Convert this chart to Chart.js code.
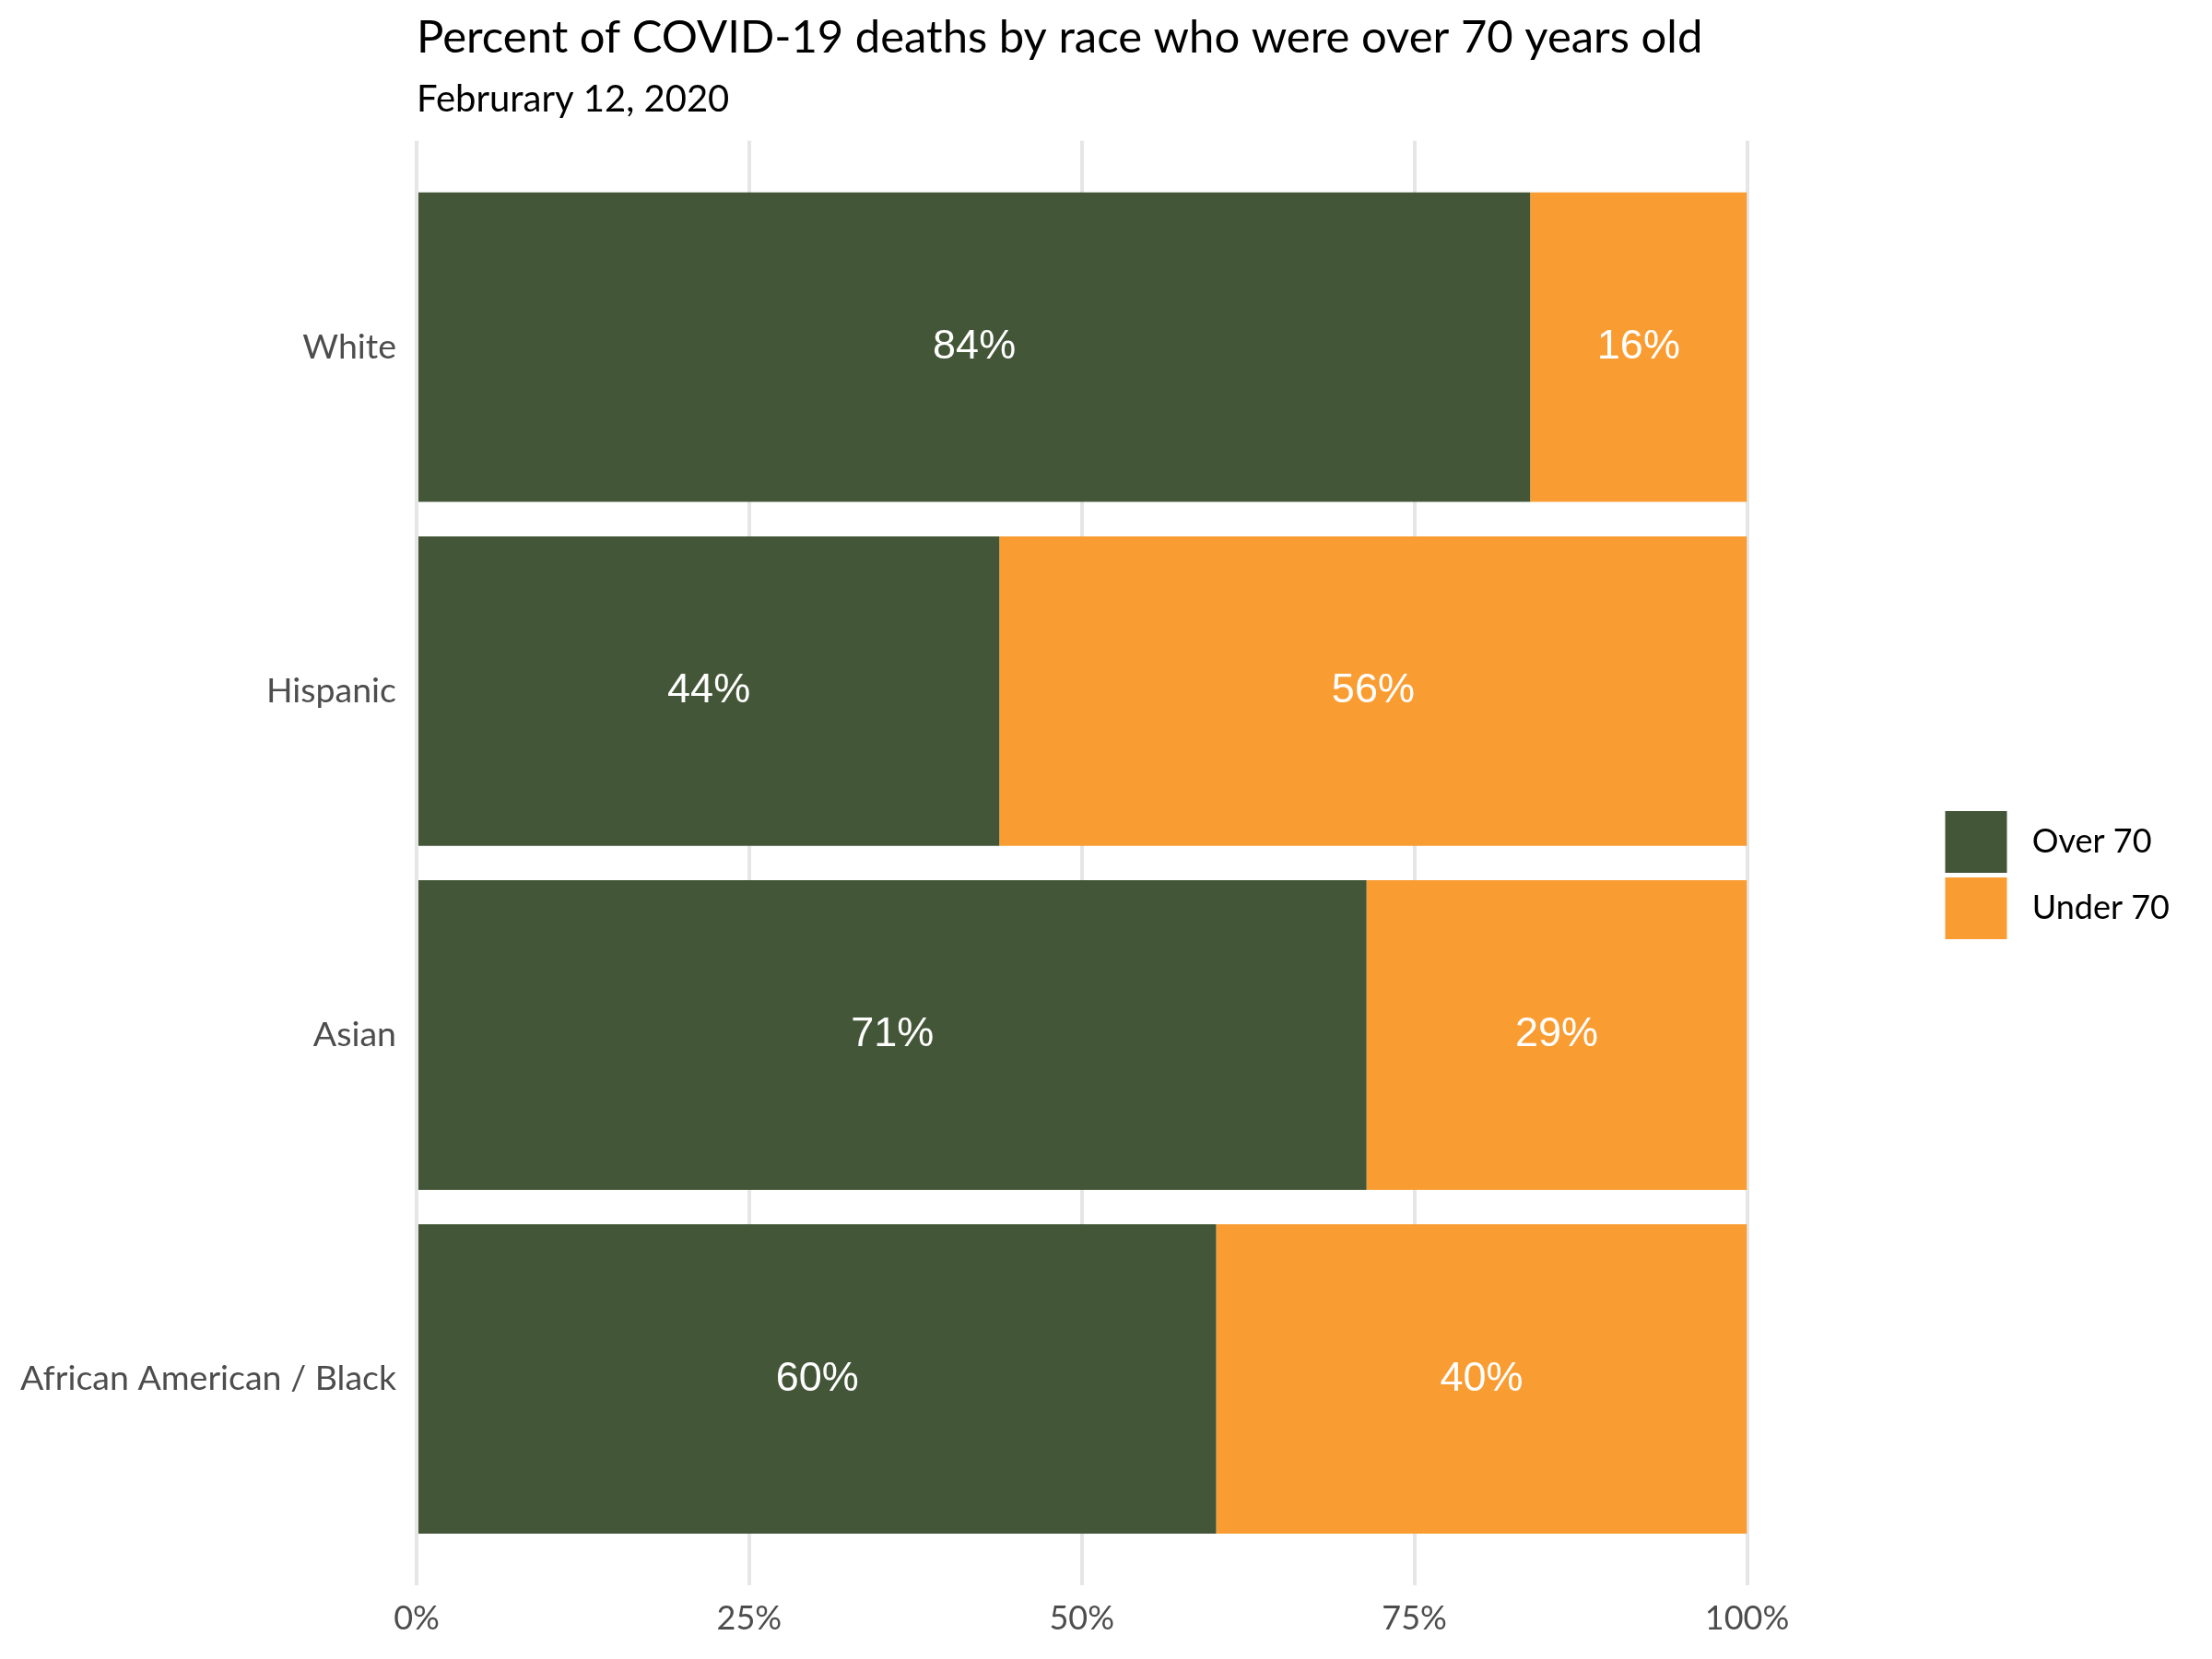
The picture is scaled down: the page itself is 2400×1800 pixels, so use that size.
<!DOCTYPE html>
<html>
<head>
<meta charset="utf-8">
<script src="https://cdn.jsdelivr.net/npm/chart.js@4"></script>
<style>
  html, body { margin: 0; padding: 0; background: #fff; }
  #wrap { width: 2400px; height: 1800px; position: relative; }
</style>
</head>
<body>
<div id="wrap"><canvas id="chart"></canvas></div>
<script>
// Data
const categories = ['White', 'Hispanic', 'Asian', 'African American / Black'];
const over70 = [83.7, 43.8, 71.4, 60.1];
const under70 = [16.3, 56.2, 28.6, 39.9];
const seriesNames = ['Over 70', 'Under 70'];
const xTicks = [0, 25, 50, 75, 100];

const GREEN = '#435637';
const ORANGE = '#f99d33';

Chart.defaults.font.family = 'Lato';

// Put the percentage in the middle of each segment
const segmentLabels = {
    id: 'segmentLabels',
    afterDatasetsDraw(chart) {
        const ctx = chart.ctx;
        ctx.save();
        ctx.fillStyle = '#ffffff';
        ctx.font = '45px "Liberation Sans"';
        ctx.textAlign = 'center';
        ctx.textBaseline = 'middle';
        chart.data.datasets.forEach((ds, di) => {
            const meta = chart.getDatasetMeta(di);
            meta.data.forEach((bar, i) => {
                const p = bar.getProps(['x', 'y', 'base'], true);
                ctx.fillText(Math.round(ds.data[i].x) + '%', (p.x + p.base) / 2, p.y);
            });
        });
        ctx.restore();
    }
};

function toPoints(values) {
    return categories.map((c, i) => ({ y: i + 1, x: values[i] }));
}

new Chart(document.getElementById('chart'), {
    type: 'bar',
    data: {
        datasets: [
            { label: seriesNames[0], data: toPoints(over70), backgroundColor: GREEN },
            { label: seriesNames[1], data: toPoints(under70), backgroundColor: ORANGE }
        ]
    },
    options: {
        indexAxis: 'y',
        responsive: true,
        maintainAspectRatio: false,
        animation: false,
        categoryPercentage: 1,
        barPercentage: 0.9,
        layout: { padding: { left: 0, right: 36, top: 0, bottom: 8 } },
        scales: {
            x: {
                stacked: true,
                min: 0,
                max: 100,
                afterBuildTicks: s => { s.ticks = xTicks.map(v => ({ value: v })); },
                ticks: {
                    callback: v => v + '%',
                    color: '#4d4d4d',
                    font: { size: 36, lineHeight: 1 },
                    padding: 18
                },
                grid: { color: '#e6e6e6', lineWidth: 4, drawTicks: false },
                border: { display: false }
            },
            y: {
                type: 'linear',
                stacked: true,
                offset: false,
                min: 0.4,
                max: 4.6,
                reverse: true,
                afterBuildTicks: s => { s.ticks = categories.map((c, i) => ({ value: i + 1 })); },
                afterFit: s => { s.width = 452; },
                ticks: {
                    callback: v => categories[v - 1] || '',
                    color: '#4d4d4d',
                    font: { size: 37.5 },
                    padding: 14
                },
                grid: { display: false, offset: false },
                border: { display: false }
            },
            gap: {
                type: 'linear',
                position: 'right',
                display: true,
                afterFit: s => { s.width = 210; },
                ticks: { display: false },
                grid: { display: false },
                border: { display: false }
            }
        },
        plugins: {
            legend: {
                position: 'right',
                align: 'center',
                fullSize: false,
                // empty title only pushes the keys down a little
                title: { display: true, text: ' ', font: { size: 10 }, padding: 7 },
                labels: {
                    boxWidth: 67,
                    boxHeight: 67,
                    padding: 5,
                    color: '#000',
                    font: { size: 36 },
                    generateLabels: chart => Chart.defaults.plugins.legend.labels.generateLabels(chart)
                        .map(item => Object.assign(item, { text: ' ' + item.text }))
                }
            },
            title: {
                display: true,
                text: 'Percent of COVID-19 deaths by race who were over 70 years old',
                align: 'start',
                fullSize: false,
                color: '#000',
                font: { size: 49, weight: 'normal' },
                padding: { top: 12, bottom: 13 }
            },
            subtitle: {
                display: true,
                text: 'Februrary 12, 2020',
                align: 'start',
                fullSize: false,
                color: '#000',
                font: { size: 40, weight: 'normal' },
                padding: { top: 0, bottom: 21 }
            },
            tooltip: { enabled: false }
        }
    },
    plugins: [segmentLabels]
});
</script>
</body>
</html>
